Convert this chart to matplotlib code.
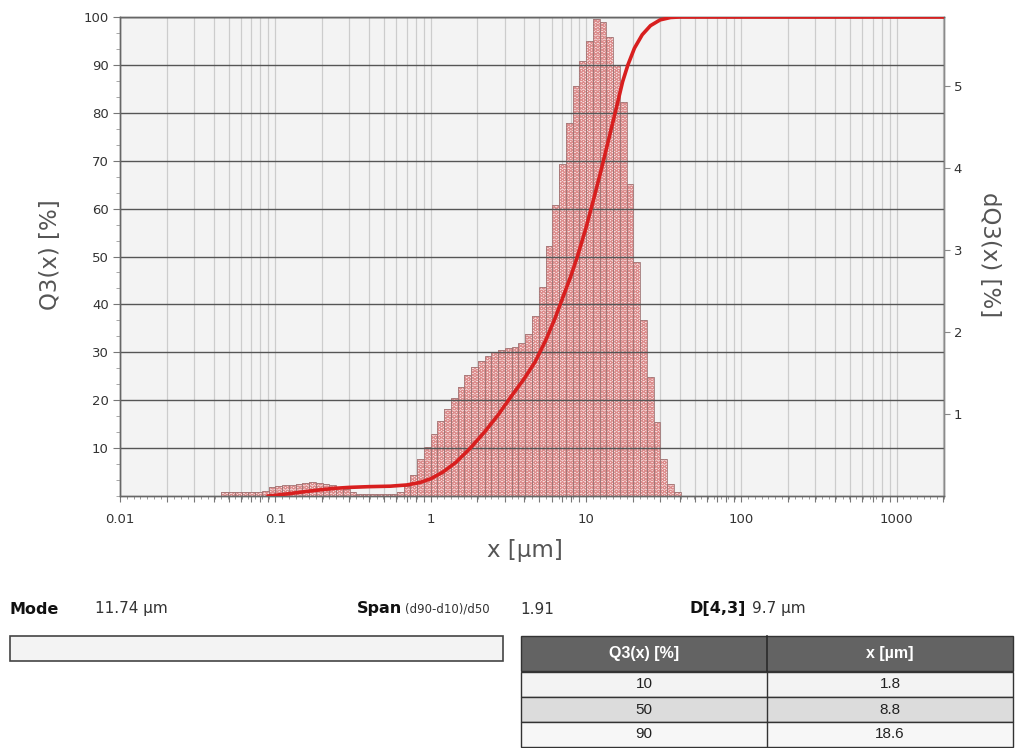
import numpy as np
import matplotlib
matplotlib.use('Agg')
import matplotlib.pyplot as plt
from matplotlib.ticker import FixedLocator, FuncFormatter, MultipleLocator, NullFormatter
from matplotlib.patches import Rectangle

# size classes: 23 per decade, index 0 = 1 µm
per_decade = 23
class_idx = np.arange(-46, 77)
class_edges = 10.0 ** (class_idx / per_decade)

# density distribution dQ3 [%] for classes starting at index -31
hist_start = -31
dq3 = [0.05, 0.05, 0.05, 0.05, 0.05, 0.05, 0.06, 0.11, 0.12, 0.13,
       0.14, 0.15, 0.16, 0.17, 0.16, 0.15, 0.13, 0.11, 0.08, 0.05,
       0.03, 0.02, 0.02, 0.02, 0.02, 0.03, 0.05, 0.12, 0.25, 0.45,
       0.60, 0.76, 0.92, 1.06, 1.20, 1.33, 1.47, 1.57, 1.65, 1.71,
       1.75, 1.78, 1.80, 1.82, 1.87, 1.98, 2.20, 2.55, 3.05, 3.55,
       4.05, 4.55, 5.00, 5.30, 5.55, 5.82, 5.78, 5.60, 5.25, 4.80,
       3.80, 2.85, 2.15, 1.45, 0.90, 0.45, 0.15, 0.05]

# cumulative curve Q3 [%]
q3_x = [0.09, 0.1, 0.12, 0.15, 0.19, 0.24, 0.3, 0.4, 0.55, 0.7, 0.85,
        1.0, 1.2, 1.45, 2.2, 2.7, 3.3, 4.0, 4.7, 5.5, 6.3, 7.1, 8.0,
        10.0, 11.2, 12.5, 14.0, 15.8, 17.2, 20.5, 23.0, 26.0, 30.0,
        35.0, 40.0, 2100.0]
q3_y = [0.0, 0.15, 0.45, 0.85, 1.25, 1.6, 1.8, 1.95, 2.05, 2.3, 2.8,
        3.6, 5.0, 7.0, 13.2, 16.8, 20.8, 24.5, 28.0, 32.5, 37.0, 41.5, 46.0,
        56.0, 62.0, 68.0, 74.5, 81.5, 86.5, 93.5, 96.3, 98.2, 99.4,
        99.9, 100.0, 100.0]

# characteristic values
table_q3 = [10, 50, 90]
table_x = [1.8, 8.8, 18.6]
mode_val = 11.74
span_val = 1.91
d43_val = 9.7

# merge percentiles into the cumulative curve
pts = sorted(zip(q3_x + table_x, q3_y + table_q3))
curve_x = [p[0] for p in pts]
curve_y = [p[1] for p in pts]

plt.rcParams['font.family'] = ['DejaVu Sans']
plt.rcParams['hatch.linewidth'] = 0.7

W, H = 1015, 748
fig = plt.figure(figsize=(W / 100, H / 100), dpi=100)
ax = fig.add_axes([120 / W, 1 - 496 / H, (944 - 120) / W, (496 - 17) / H])
ax2 = ax.twinx()

# --- density histogram (right axis) ---
i0 = list(class_idx).index(hist_start)
lefts = class_edges[i0:i0 + len(dq3)]
rights = class_edges[i0 + 1:i0 + 1 + len(dq3)]
ax.bar(lefts, dq3, width=rights - lefts, align='edge', color='#f7e2e2',
       edgecolor='#dc8c8c', hatch='OOOO', linewidth=0, zorder=2)
ax.bar(lefts, dq3, width=rights - lefts, align='edge', fill=False,
       edgecolor='#a07676', linewidth=0.6, zorder=3)

ax.set_xscale('log')
ax.set_xlim(0.01, class_edges[-1])
ax.set_ylim(0, 5.84)
ax.set_facecolor('#f3f3f3')

decades = [0.01, 0.1, 1, 10, 100, 1000]
grid_x = [d * m for d in decades for m in range(1, 10)]
ax.xaxis.set_major_locator(FixedLocator(grid_x))
ax.xaxis.set_major_formatter(FuncFormatter(
    lambda v, p: ('%g' % v) if any(abs(v - d) < 1e-9 for d in decades) else ''))
ax.xaxis.set_minor_locator(FixedLocator(class_edges))
ax.xaxis.set_minor_formatter(NullFormatter())
ax.xaxis.grid(True, which='major', color='#cccccc', linewidth=0.9, zorder=0)
ax.set_axisbelow(True)
ax.tick_params(axis='x', which='major', length=4, color='#777', labelsize=9.5,
               labelcolor='#333', pad=8)
ax.tick_params(axis='x', which='minor', length=2.5, color='#888')

ax.yaxis.tick_right()
ax.yaxis.set_major_locator(FixedLocator([1, 2, 3, 4, 5]))
ax.tick_params(axis='y', which='major', length=4, color='#888', labelsize=9.5,
               labelcolor='#333', pad=3)

# --- cumulative curve (left axis) ---
ax2.yaxis.tick_left()
ax2.set_ylim(0, 100)
ax2.yaxis.set_major_locator(FixedLocator(range(10, 101, 10)))
ax2.yaxis.set_minor_locator(MultipleLocator(10 / 3))
ax2.yaxis.grid(True, which='major', color='#555555', linewidth=1.0)
ax2.tick_params(axis='y', which='major', length=5, color='#777', labelsize=9.5,
                labelcolor='#333', pad=3)
ax2.tick_params(axis='y', which='minor', length=3, color='#999')
ax2.plot(curve_x, curve_y, color='#d81f1f', linewidth=2.6, zorder=5)

for a in (ax, ax2):
    for s in a.spines.values():
        s.set_color('#666666')
        s.set_linewidth(1.0)
    a.spines['right'].set_color('#8a8a8a')

fig.text(50 / W, 1 - 255 / H, 'Q3(x) [%]', rotation=90, ha='center', va='center',
         fontsize=16.5, color='#555')
fig.text(990 / W, 1 - 255 / H, 'dQ3(x) [%]', rotation=270, ha='center', va='center',
         fontsize=16.5, color='#555')
fig.text(525 / W, 1 - 550 / H, 'x [µm]', ha='center', va='center',
         fontsize=16.5, color='#555')

# --- summary block below the chart ---
ov = fig.add_axes([0, 0, 1, 1], zorder=-1)
ov.set_xlim(0, W)
ov.set_ylim(H, 0)
ov.axis('off')

ty = 609
ov.text(10, ty, 'Mode', fontsize=11.5, fontweight='bold', color='#111', va='center')
ov.text(95, ty, '%.2f µm' % mode_val, fontsize=11, color='#333', va='center')
ov.text(357, ty, 'Span', fontsize=11.5, fontweight='bold', color='#111', va='center')
ov.text(405, ty, '(d90-d10)/d50', fontsize=8.5, color='#333', va='center')
ov.text(520, ty, '%.2f' % span_val, fontsize=11, color='#333', va='center')
ov.text(690, ty, 'D[4,3]', fontsize=11.5, fontweight='bold', color='#111', va='center')
ov.text(752, ty, '%.1f µm' % d43_val, fontsize=11, color='#333', va='center')

ov.add_patch(Rectangle((10, 636), 493, 25, facecolor='#f3f3f3',
                       edgecolor='#444', linewidth=1.2))

# percentile table
tx0, tx1, tx2 = 521, 767, 1013
hdr_top, hdr_h, row_h = 636, 35, 25
ov.add_patch(Rectangle((tx0, hdr_top), tx2 - tx0, hdr_h, facecolor='#636363',
                       edgecolor='#333', linewidth=1.0))
ov.plot([tx1, tx1], [hdr_top, hdr_top + hdr_h], color='#2a2a2a', linewidth=1.2)
tab_font = ['Liberation Sans', 'DejaVu Sans']
ov.text((tx0 + tx1) / 2, hdr_top + hdr_h / 2, 'Q3(x) [%]', ha='center', va='center',
        fontsize=11.5, fontweight='bold', color='white', family=tab_font)
ov.text((tx1 + tx2) / 2, hdr_top + hdr_h / 2, 'x [µm]', ha='center', va='center',
        fontsize=11.5, fontweight='bold', color='white', family=tab_font)
row_fill = ['#f3f3f3', '#dcdcdc', '#f7f7f7']
for r, (q, xv) in enumerate(zip(table_q3, table_x)):
    y0 = hdr_top + hdr_h + 1 + r * row_h
    ov.add_patch(Rectangle((tx0, y0), tx2 - tx0, row_h, facecolor=row_fill[r],
                           edgecolor='#333', linewidth=1.0))
    ov.plot([tx1, tx1], [y0, y0 + row_h], color='#333', linewidth=1.0)
    ov.text((tx0 + tx1) / 2, y0 + row_h / 2, '%d' % q, ha='center', va='center',
            fontsize=11, color='#222', family=tab_font)
    ov.text((tx1 + tx2) / 2, y0 + row_h / 2, '%.1f' % xv, ha='center', va='center',
            fontsize=11, color='#222', family=tab_font)

plt.savefig('out.png', dpi=100)
